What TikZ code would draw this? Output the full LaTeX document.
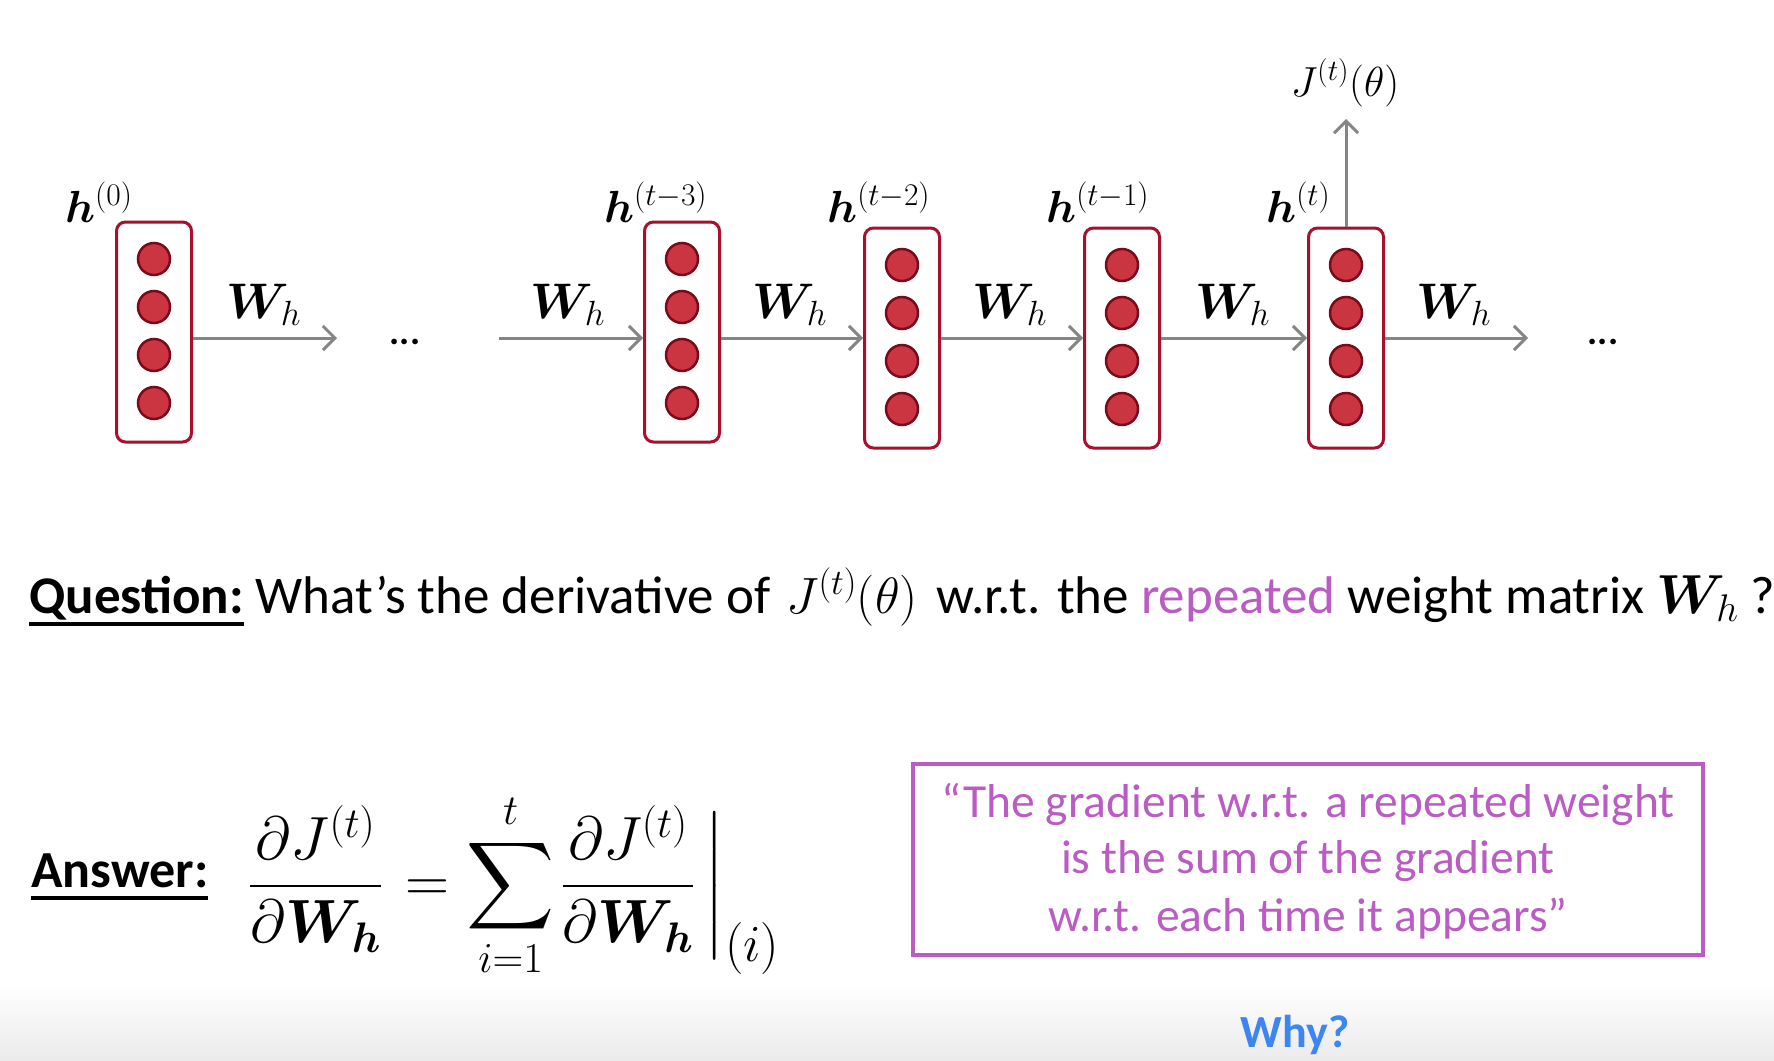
\RequirePackage{fix-cm}
\documentclass[tikz,border=0pt]{standalone}
\usepackage[no-math]{fontspec}
\setmainfont{Carlito}
\usepackage{amsmath,bm}
\DeclareFontShape{OMX}{cmex}{m}{n}{<->cmex10}{}
\usetikzlibrary{arrows.meta,calc}
\definecolor{boxred}{HTML}{A8102E}
\definecolor{dotfill}{HTML}{CB3441}
\definecolor{dotline}{HTML}{7A0A1C}
\definecolor{arrgray}{HTML}{858585}
\definecolor{purp}{HTML}{BA5CC4}
\definecolor{whyblue}{HTML}{3D85F0}
\newcommand\myul[1]{\setbox0\hbox{#1}\rlap{\copy0}\rule[-13pt]{\wd0}{4pt}}
\begin{document}
\begin{tikzpicture}[x=1pt,y=-1pt,
  hbox/.style={draw=boxred, line width=3, rounded corners=9, minimum width=75, minimum height=220, inner sep=0},
  unit/.style={circle, fill=dotfill, draw=dotline, line width=2.5, minimum size=32, inner sep=0},
  link/.style={draw=arrgray, line width=3, -{Straight Barb[length=12pt,width=24pt]}},
  wlab/.style={anchor=base west, inner sep=0, font=\fontsize{50}{58}\selectfont},
  hlab/.style={anchor=base west, inner sep=0, font=\fontsize{45}{52}\selectfont},
  dotsl/.style={anchor=base, inner sep=0, font=\fontsize{38}{45}\selectfont\bfseries},
  qt/.style={anchor=base, inner sep=0, text=purp, font=\fontsize{47.5}{57}\selectfont}]
\useasboundingbox (0,0) rectangle (1774,1060);
\fill[white] (0,0) rectangle (1774,1060);
\shade[top color=white, bottom color=black!8, draw=none] (0,985) rectangle (1774,1060);

% hidden-state boxes with units
\foreach \n/\x/\y in {h0/154/332, h3/682/332, h2/902/338, h1/1122/338, ht/1346/338}{
  \node[hbox] (\n) at (\x,\y) {};
  \foreach \k/\d in {1/-72,2/-24,3/24,4/72}
    \node[unit] (\n-\k) at (\x,\y+\d-1) {};
}

% labels of states
\node[hlab] (l0) at (65,222) {$\boldsymbol{h}^{(0)}$};
\node[hlab] (l3) at (604,222) {$\boldsymbol{h}^{(t-3)}$};
\node[hlab] (l2) at (827,222) {$\boldsymbol{h}^{(t-2)}$};
\node[hlab] (l1) at (1046,222) {$\boldsymbol{h}^{(t-1)}$};
\node[hlab] (lt) at (1266,222) {$\boldsymbol{h}^{(t)}$};

% connectors
\coordinate (e0) at (337,338);
\coordinate (s3) at (499,338);
\coordinate (e5) at (1528,338);
\coordinate (up) at (1346,119);
\draw[link] (h0.east |- e0) -- (e0);
\draw[link] (s3) -- (s3 -| h3.west);
\draw[link] (h3.east |- s3) -- (h2.west);
\draw[link] (h2.east) -- (h1.west);
\draw[link] (h1.east) -- (ht.west);
\draw[link] (ht.east) -- (e5);
\draw[link] (ht.north) -- (up);

% weight labels
\node[wlab] (w0) at (226,318) {$\boldsymbol{W}_h$};
\node[wlab] (w1) at (530,318) {$\boldsymbol{W}_h$};
\node[wlab] (w2) at (752,318) {$\boldsymbol{W}_h$};
\node[wlab] (w3) at (972,318) {$\boldsymbol{W}_h$};
\node[wlab] (w4) at (1195,318) {$\boldsymbol{W}_h$};
\node[wlab] (w5) at (1416,318) {$\boldsymbol{W}_h$};

\node[dotsl] (d1) at (405,344) {...};
\node[dotsl] (d2) at (1603,344) {...};

\node[anchor=base, inner sep=0, font=\fontsize{42}{50}\selectfont] (J) at (1345,96) {$J^{(t)}(\theta)$};

% question
\node[anchor=base west, inner sep=0, font=\fontsize{53}{63}\selectfont] (q) at (29,613)
  {\myul{\textbf{Question:}} What’s the derivative of\hspace{4pt} {\fontsize{51}{60}\selectfont$J^{(t)}(\theta)$}\hspace{7pt} w.r.t. the \textcolor{purp}{repeated} weight matrix {\fontsize{55}{64}\selectfont$\boldsymbol{W}_h$} ?};

% answer
\node[anchor=base west, inner sep=0, font=\fontsize{52}{62}\selectfont] (ans) at (31,887) {\myul{\textbf{Answer:}}};
\node[anchor=base west, inner sep=0, font=\fontsize{61}{72}\selectfont] (f) at (249,901)
  {$\displaystyle\frac{\partial J^{(t)}}{\partial \boldsymbol{W_h}} \mskip2mu = \sum_{i=1}^{t}\mskip-1mu\frac{\partial J^{(t)}}{\partial \boldsymbol{W_h}}\mskip3mu\bigg|_{\mbox{\fontsize{52}{60}\selectfont$(i)$}}$};

% quote box
\node[draw=purp, line width=4.5, minimum width=790, minimum height=191, inner sep=0] (qb) at (1308,859.5) {};
\node[qt] (q1) at (1308,817) {“The gradient w.r.t. a repeated weight};
\node[qt] (q2) at (1308,873) {is the sum of the gradient};
\node[qt] (q3) at (1308,931) {w.r.t. each time it appears”};

\node[anchor=base, inner sep=0, text=whyblue, font=\fontsize{46}{55}\selectfont\bfseries] (why) at (1295,1047) {Why?};
\end{tikzpicture}
\end{document}
